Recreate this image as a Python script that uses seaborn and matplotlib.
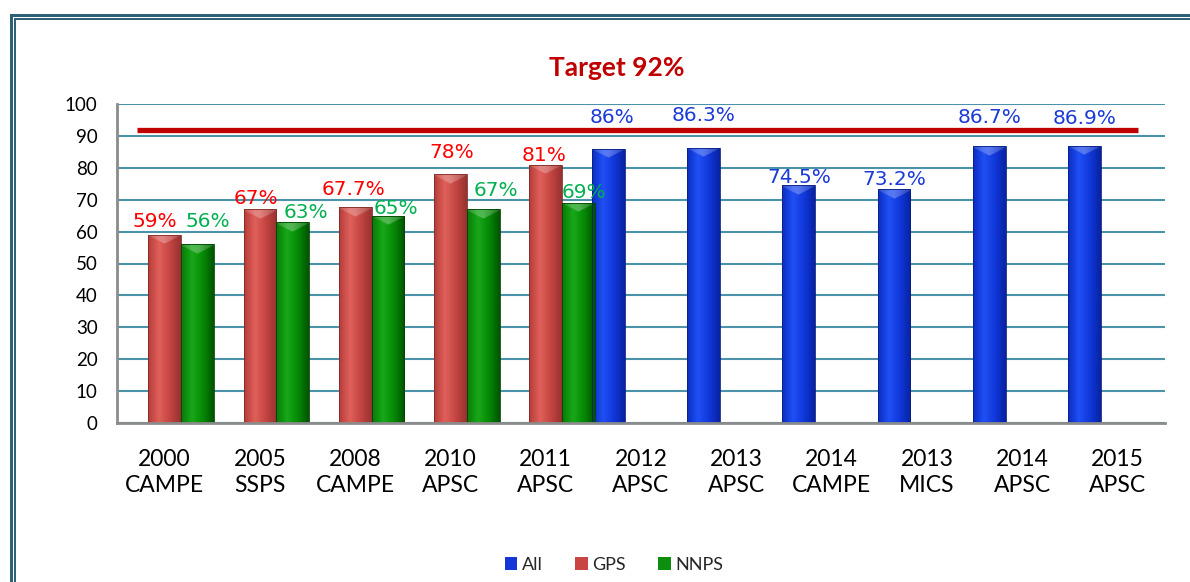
import numpy as np
import pandas as pd
import matplotlib
matplotlib.use("Agg")
import matplotlib.pyplot as plt
from matplotlib.colors import LinearSegmentedColormap
from matplotlib.patches import Rectangle
import seaborn as sns

# ---------------- data ----------------
years = ["2000", "2005", "2008", "2010", "2011", "2012", "2013", "2014", "2013", "2014", "2015"]
sources = ["CAMPE", "SSPS", "CAMPE", "APSC", "APSC", "APSC", "APSC", "CAMPE", "MICS", "APSC", "APSC"]
all_vals = [None, None, None, None, None, 86, 86.3, 74.5, 73.2, 86.7, 86.9]
gps_vals = [59, 67, 67.7, 78, 81, None, None, None, None, None, None]
nnps_vals = [56, 63, 65, 67, 69, None, None, None, None, None, None]
series_names = ["All", "GPS", "NNPS"]
target = 92
title_text = "Target 92%"

# ---------------- style / layout ----------------
bar_colors = {"All": "#1436D8", "GPS": "#C84541", "NNPS": "#0E8E0E"}
label_colors = {"All": "#1a3ad8", "GPS": "#FF0000", "NNPS": "#00B050"}
grad_colors = {
    "All": ["#0A2EC0", "#2050F5", "#1038DA", "#0822A0"],
    "GPS": ["#B53C38", "#E0605B", "#C44541", "#963230"],
    "NNPS": ["#087A08", "#18A818", "#068A06", "#005400"],
}
edge_colors = {"All": "#0A1E80", "GPS": "#7E2A28", "NNPS": "#004400"}
# label placement tweaks (data-unit lift above bar, pixel shift in x)
label_dy = {"GPS": [2.5, 1.5, 3.8, 5.1, 1.0],
            "NNPS": [5.4, 1.3, 0.5, 4.3, 1.5],
            "All": [8.2, 8.5, 0.6, 1.4, 7.2, 6.8]}
label_dx = {"GPS": [-10, -4, -2, 1, -2],
            "NNPS": [10, 13, 8, 13, 5],
            "All": [4, 0, 0, 0, 0, 0]}

sns.set_style("white")
plt.rcParams["font.family"] = ["Lato", "DejaVu Sans"]

cats = [f"{y}\n{s}" for y, s in zip(years, sources)]
rows = []
for name, vals in zip(series_names, [all_vals, gps_vals, nnps_vals]):
    for c, v in zip(cats, vals):
        if v is not None:
            rows.append({"cat": c, "series": name, "value": v})
df = pd.DataFrame(rows)

fig = plt.figure(figsize=(11.9, 5.82), dpi=100)
ax = fig.add_axes([117 / 1190, 159 / 582, 1048 / 1190, 319 / 582])

sns.barplot(data=df, x="cat", y="value", hue="series", order=cats,
            hue_order=series_names, palette=bar_colors, width=1.03, gap=0,
            dodge=True, saturation=1, errorbar=None, ax=ax, zorder=3,
            edgecolor="none")

ax.set_xlim(-0.5, len(cats) - 0.5)
ax.set_ylim(0, 100)
ax.set_yticks(range(0, 101, 10))
ax.set_xlabel("")
ax.set_ylabel("")

# gradient shading of the bars, with a lighter bevel at the top
for cont, name in zip(ax.containers, series_names):
    cmap = LinearSegmentedColormap.from_list(name, grad_colors[name])
    for bar in cont:
        x0, y0 = bar.get_x(), bar.get_y()
        w, h = bar.get_width(), bar.get_height()
        if not np.isfinite(h) or h == 0:
            continue
        grad = np.linspace(0, 1, 128).reshape(1, -1)
        im = ax.imshow(grad, extent=(x0, x0 + w, y0, y0 + h), cmap=cmap,
                       aspect="auto", zorder=3.5, interpolation="bicubic")
        im.set_clip_path(bar)
        bev = 3.0  # bevel depth in data units
        top = np.ones((16, 128, 4))
        top[..., :3] = 1.0
        yy = np.linspace(1, 0, 16).reshape(-1, 1)
        xx = np.abs(np.linspace(-1, 1, 128)).reshape(1, -1)
        top[..., 3] = 0.28 * (yy > xx * 0.9) * (1 - 0.5 * xx)
        im2 = ax.imshow(top, extent=(x0, x0 + w, y0 + h - bev, y0 + h),
                        aspect="auto", zorder=3.6, interpolation="bilinear")
        im2.set_clip_path(bar)
        bar.set_edgecolor(edge_colors[name])
        bar.set_linewidth(0.6)
        bar.set_zorder(3.7)
        bar.set_facecolor("none")
ax.set_xlim(-0.5, len(cats) - 0.5)
ax.set_ylim(0, 100)

# data labels
for cont, name in zip(ax.containers, series_names):
    i = 0
    for bar in cont:
        h = bar.get_height()
        if not np.isfinite(h) or h == 0:
            continue
        xc = bar.get_x() + bar.get_width() / 2
        ax.annotate(f"{h:g}%", xy=(xc, h + label_dy[name][i]),
                    xytext=(label_dx[name][i] * 0.72, 0), textcoords="offset points",
                    ha="center", va="baseline", color=label_colors[name],
                    fontsize=14.5, family=["DejaVu Sans"], zorder=6)
        i += 1

# target line
ax.axhline(target, xmin=20 / 1048, xmax=1021 / 1048, color="#C00000", lw=3.8, zorder=5,
           solid_capstyle="butt")

# grid & spines
ax.yaxis.grid(True, color="#4A93AB", lw=1.5, zorder=0)
ax.xaxis.grid(False)
ax.set_axisbelow(True)
for s in ["top", "right"]:
    ax.spines[s].set_visible(False)
for s in ["left", "bottom"]:
    ax.spines[s].set_color("#8C8C8C")
    ax.spines[s].set_linewidth(2)
    ax.spines[s].set_zorder(4)
ax.tick_params(axis="y", length=0, pad=14, labelsize=13.5, labelcolor="black")
ax.tick_params(axis="x", length=0, pad=19, labelsize=16.5, labelcolor="black")
for t in ax.get_xticklabels():
    t.set_linespacing(1.3)

fig.text(617 / 1190, 1 - 68 / 582, title_text, ha="center", va="center",
         fontsize=19, fontweight="bold", color="#C00000")

sns.move_legend(ax, "center", bbox_to_anchor=(614 / 1190, 17 / 582),
                bbox_transform=fig.transFigure, ncol=3, frameon=False,
                title=None, fontsize=13, handlelength=0.7, handleheight=0.7,
                handletextpad=0.25, columnspacing=1.8)

# outer double frame (open to the right/bottom)
W, H = 1190, 582
for x, y, lw in [(10.5, 15, 3), (14.5, 19.2, 2)]:
    fig.add_artist(Rectangle((x / W, -0.2), 1.5, (H - y) / H + 0.2,
                             transform=fig.transFigure, fill=False,
                             edgecolor="#2E6175", lw=lw * 0.72, zorder=10))

fig.savefig("out.png", dpi=100)
